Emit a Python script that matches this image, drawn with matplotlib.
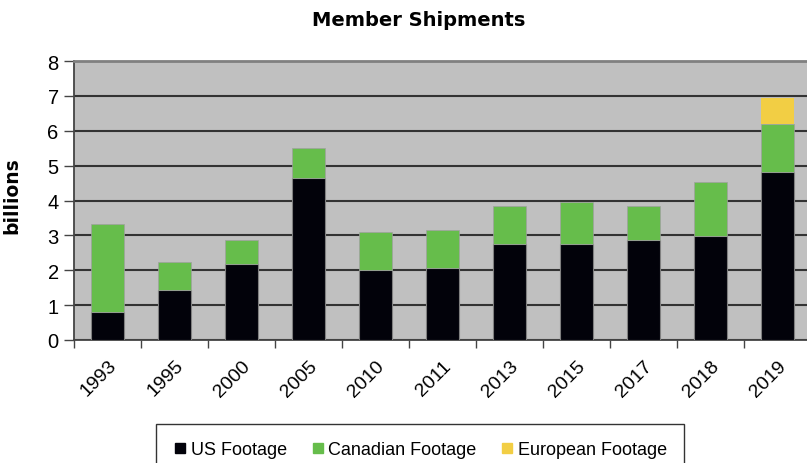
import numpy as np
import matplotlib.pyplot as plt
from matplotlib.lines import Line2D

years = ['1993', '1995', '2000', '2005', '2010', '2011', '2013', '2015', '2017', '2018', '2019']
us = [0.80, 1.44, 2.18, 4.65, 2.02, 2.07, 2.76, 2.76, 2.87, 2.99, 4.82]
canadian = [2.53, 0.81, 0.69, 0.86, 1.08, 1.09, 1.09, 1.20, 0.98, 1.54, 1.38]
european = [0, 0, 0, 0, 0, 0, 0, 0, 0, 0, 0.75]

black = '#02020a'
green = '#66bd4b'
yellow = '#f2ce44'

fig = plt.figure(figsize=(8.07, 4.64), dpi=100)
ax = fig.add_axes([74/807, 1-341/464, 737/807, 279/464])
ax.set_facecolor('#c0c0c0')

x = np.arange(len(years))
w = 0.48
us = np.array(us)
canadian = np.array(canadian)
european = np.array(european)
ax.bar(x, us, w, color=black, edgecolor='#808080', linewidth=0.8, zorder=3)
ax.bar(x, canadian, w, bottom=us, color=green, edgecolor='#a0a0a0', linewidth=0.5, zorder=3)
ax.bar(x, european, w, bottom=us + canadian, color=yellow, linewidth=0, zorder=3)

ax.set_xlim(-0.5, len(years) - 0.5)
ax.set_ylim(0, 8)
ax.set_yticks(range(9))
ax.grid(axis='y', color='#333333', linewidth=1.5, zorder=1)

ax.set_xticks(x)
ax.set_xticklabels(years, rotation=45, ha='right', va='top', rotation_mode='anchor',
                   fontsize=14, family='Liberation Sans')
ax.tick_params(axis='x', which='major', length=0, pad=12)
ax.set_xticks(np.arange(-0.5, len(years)), minor=True)
ax.tick_params(axis='x', which='minor', length=6, width=1, color='#444444', direction='out')
ax.tick_params(axis='y', length=7, width=1, color='#444444', labelsize=14.5, pad=4)
for lab in ax.get_yticklabels():
    lab.set_family('Liberation Sans')

ax.spines['right'].set_visible(False)
ax.spines['top'].set_color('#808080')
ax.spines['top'].set_linewidth(2)
ax.spines['left'].set_color('#444444')
ax.spines['left'].set_linewidth(1.3)
ax.spines['bottom'].set_color('#444444')
ax.spines['bottom'].set_linewidth(1.3)

ax.set_ylabel('billions', fontsize=13.5, fontweight='bold', family='DejaVu Sans')
ax.yaxis.set_label_coords(-53/737, 0.52)
fig.text(419/807, 1-20/464, 'Member Shipments', ha='center', va='center',
         fontsize=14, fontweight='bold', family='DejaVu Sans')

handles = [Line2D([], [], marker='s', linestyle='', color=c, markersize=6.5)
           for c in [black, green, yellow]]
leg = fig.legend(handles, ['US Footage', 'Canadian Footage', 'European Footage'],
                 loc='center', bbox_to_anchor=(420/807, 1-451/464), ncol=3,
                 prop={'family': 'Liberation Sans', 'size': 13}, frameon=True,
                 fancybox=False, edgecolor='black', borderpad=0.95,
                 handletextpad=0.2, columnspacing=1.3, handlelength=0.8)
leg.get_frame().set_linewidth(1.0)

fig.savefig('out.png', dpi=100)
